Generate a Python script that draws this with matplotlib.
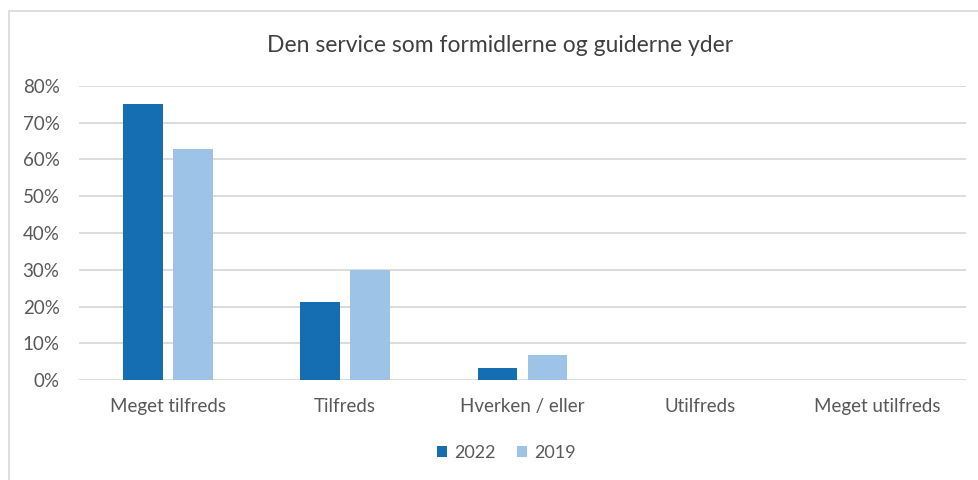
import numpy as np
import matplotlib.pyplot as plt
from matplotlib.patches import Rectangle

plt.rcParams['font.family'] = ['Lato', 'DejaVu Sans']

# data
categories = ["Meget tilfreds", "Tilfreds", "Hverken / eller", "Utilfreds", "Meget utilfreds"]
vals_2022 = [0.751, 0.213, 0.034, 0.0, 0.0]
vals_2019 = [0.629, 0.298, 0.068, 0.0, 0.0]
series_labels = ["2022", "2019"]

DARK = "#156DB2"
LIGHT = "#9DC3E6"
TEXT = "#595959"
GRID = "#D9D9D9"

fig = plt.figure(figsize=(9.79, 4.8), dpi=100)
ax = fig.add_axes([79/979, 1 - 380/480, (966 - 79)/979, (380 - 86)/480])

# outer chart frame
fig.patches.append(Rectangle((9/979, -0.1), 1.1, 1 - 11/480 + 0.1, transform=fig.transFigure,
                             fill=False, edgecolor=GRID, linewidth=1.2))

x = np.arange(len(categories))
w = 0.225
off = 0.141
ax.bar(x - off, vals_2022, w, color=DARK, label=series_labels[0], zorder=3)
ax.bar(x + off, vals_2019, w, color=LIGHT, label=series_labels[1], zorder=3)

ax.set_xlim(-0.5, len(categories) - 0.5)
ax.set_ylim(0, 0.8)
ax.set_yticks(np.arange(0, 0.81, 0.1))
ax.set_yticklabels([f"{int(round(v*100))}%" for v in np.arange(0, 0.81, 0.1)])
ax.set_xticks(x)
ax.set_xticklabels(categories)
ax.tick_params(axis='both', length=0, colors=TEXT, labelsize=13.5)
ax.tick_params(axis='x', pad=13)
ax.tick_params(axis='y', pad=14)
ax.grid(axis='y', color=GRID, linewidth=1.3, zorder=0)
for s in ax.spines.values():
    s.set_visible(False)

fig.text(500/979, 1 - 45/480, "Den service som formidlerne og guiderne yder",
         ha='center', va='center', fontsize=16.5, color="#404040")

leg = fig.legend(loc='center', bbox_to_anchor=(0.517, 1 - 453/480), ncol=2, frameon=False,
                 fontsize=13, handlelength=0.55, handleheight=0.55, handletextpad=0.4,
                 columnspacing=1.2)
for t in leg.get_texts():
    t.set_color(TEXT)

fig.savefig("out.png", dpi=100)
